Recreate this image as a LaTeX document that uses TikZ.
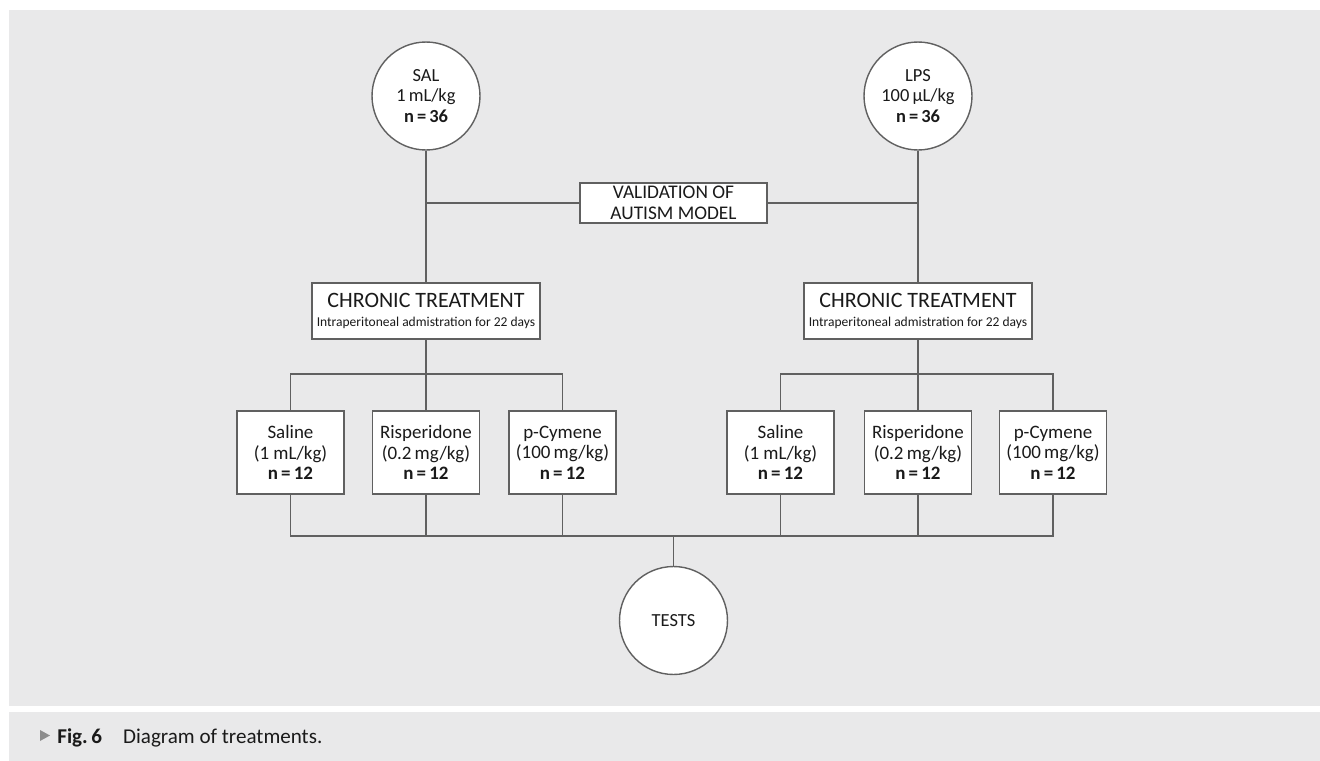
\documentclass[tikz,border=0pt]{standalone}
\usepackage{fontspec}
\setmainfont{Carlito}
\definecolor{panel}{HTML}{E9E9EA}
\definecolor{linec}{HTML}{606060}
\definecolor{txt}{HTML}{1A1A1A}
\definecolor{tri}{HTML}{8C8C8C}
\begin{document}
\begin{tikzpicture}[x=0.02cm,y=-0.02cm,
  conn/.style={draw=linec, line width=0.8pt},
  circ/.style={circle, draw=linec, line width=0.8pt, fill=white, minimum size=2.16cm,
    inner sep=0pt, align=center, text=txt, font=\fontsize{10.5}{11.5}\selectfont},
  grpbox/.style={rectangle, draw=linec, line width=0.8pt, fill=white, minimum width=2.14cm,
    minimum height=1.66cm, inner sep=0pt, align=center, text=txt, font=\fontsize{10.8}{11.6}\selectfont},
  chrbox/.style={rectangle, draw=linec, line width=0.8pt, fill=white, minimum width=4.56cm,
    minimum height=1.12cm, inner sep=0pt, align=center, text=txt},
  valbox/.style={rectangle, draw=linec, line width=0.8pt, fill=white, minimum width=3.74cm,
    minimum height=0.8cm, inner sep=0pt, align=center, text=txt, font=\fontsize{11}{11.7}\selectfont},
  capt/.style={anchor=base west, inner sep=0pt, text=txt, font=\fontsize{12}{14}\selectfont}
]
\useasboundingbox (0,0) rectangle (1320,761);
\fill[panel] (9,10) rectangle (1320,706);
\fill[panel] (9,712) rectangle (1320,761);

% top circles
\node[circ] (sal) at (426,96) {SAL\\1\,mL/kg\\\textbf{n\,=\,36}};
\node[circ] (lps) at (918,96) {LPS\\100\,µL/kg\\\textbf{n\,=\,36}};

% validation
\node[valbox] (val) at (673.5,203) {VALIDATION OF\\AUTISM MODEL};

% chronic treatment
\node[chrbox] (chl) at (426,311) {{\fontsize{12.5}{14}\selectfont CHRONIC TREATMENT}\\[-1pt]{\fontsize{7.7}{8.5}\selectfont Intraperitoneal admistration for 22 days}};
\node[chrbox] (chr) at (918,311) {{\fontsize{12.5}{14}\selectfont CHRONIC TREATMENT}\\[-1pt]{\fontsize{7.7}{8.5}\selectfont Intraperitoneal admistration for 22 days}};

% group boxes
\node[grpbox] (lsa) at (290.5,452.5) {Saline\\(1 mL/kg)\\\textbf{n\,=\,12}};
\node[grpbox] (lri) at (426,452.5) {Risperidone\\(0.2\,mg/kg)\\\textbf{n\,=\,12}};
\node[grpbox] (lpc) at (562.5,452.5) {p-Cymene\\(100\,mg/kg)\\\textbf{n\,=\,12}};
\node[grpbox] (rsa) at (780.5,452.5) {Saline\\(1 mL/kg)\\\textbf{n\,=\,12}};
\node[grpbox] (rri) at (918,452.5) {Risperidone\\(0.2\,mg/kg)\\\textbf{n\,=\,12}};
\node[grpbox] (rpc) at (1053,452.5) {p-Cymene\\(100\,mg/kg)\\\textbf{n\,=\,12}};

% tests
\node[circ] (tests) at (673.5,620.5) {TESTS};

% helper coordinates
\coordinate (topbus) at (0,374);
\coordinate (botbus) at (0,536);

% connectors
\draw[conn] (sal) -- (chl);
\draw[conn] (lps) -- (chr);
\draw[conn] (val.west) -- (val.west -| sal);
\draw[conn] (val.east) -- (val.east -| lps);

\draw[conn] (chl) -- (chl |- topbus);
\draw[conn] (lsa) -- (lsa |- topbus) -- (lpc |- topbus) -- (lpc);
\draw[conn] (chl |- topbus) -- (lri);
\draw[conn] (chr) -- (chr |- topbus);
\draw[conn] (rsa) -- (rsa |- topbus) -- (rpc |- topbus) -- (rpc);
\draw[conn] (chr |- topbus) -- (rri);

\draw[conn] (lsa) -- (lsa |- botbus) -- (rpc |- botbus) -- (rpc);
\draw[conn] (lri) -- (lri |- botbus);
\draw[conn] (lpc) -- (lpc |- botbus);
\draw[conn] (rsa) -- (rsa |- botbus);
\draw[conn] (rri) -- (rri |- botbus);
\draw[conn] (tests) -- (tests |- botbus);

% caption
\fill[tri] (40,730) -- (50,735.5) -- (40,741) -- cycle;
\node[capt] (cap) at (57,743) {\textbf{Fig.\,6}\hspace{12pt}Diagram of treatments.};
\end{tikzpicture}
\end{document}
